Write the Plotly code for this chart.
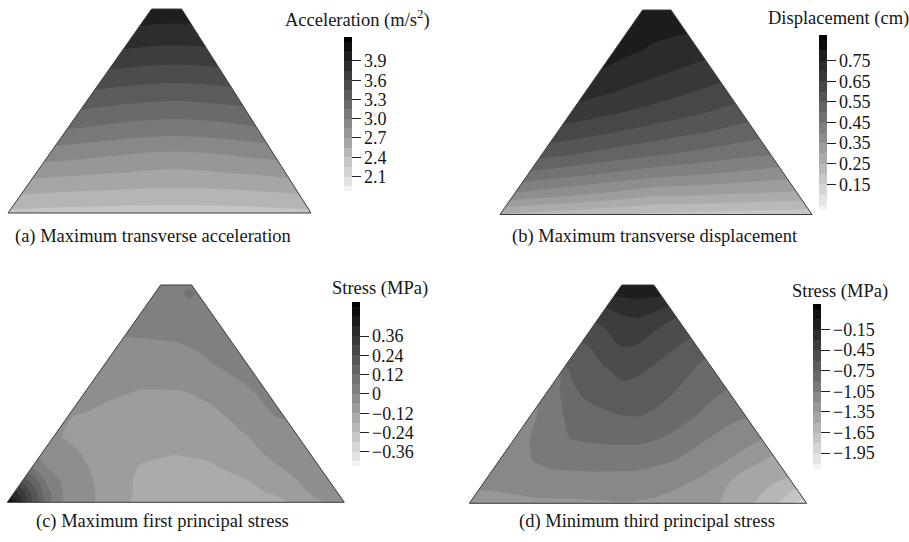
import plotly.graph_objects as go

W, H = 909, 542
SERIF = "Liberation Serif"
INK = "#161616"
GREYS = [[0.0, "#f2f2f2"], [1.0, "#000000"]]

# ---------------------------------------------------------------------------
# Field values on the dam section.  u runs across the base (0 = left toe,
# 1 = right toe), v runs up the height (0 = base, 1 = crest).
# ---------------------------------------------------------------------------

# (a) Maximum transverse acceleration, m/s^2
acc_u = [0.0, 0.1, 0.2, 0.3, 0.4, 0.5, 0.6, 0.7, 0.8, 0.9, 1.0]
acc_v = [0.0, 0.1, 0.2, 0.3, 0.4, 0.5, 0.6, 0.7, 0.8, 0.9, 1.0]
acc_z = [
    [2.36, 2.35, 2.34, 2.34, 2.33, 2.33, 2.33, 2.33, 2.34, 2.35, 2.36],
    [2.58, 2.56, 2.54, 2.53, 2.52, 2.51, 2.51, 2.52, 2.53, 2.55, 2.58],
    [2.78, 2.76, 2.74, 2.72, 2.70, 2.68, 2.68, 2.70, 2.72, 2.75, 2.78],
    [2.97, 2.95, 2.93, 2.90, 2.87, 2.85, 2.85, 2.87, 2.90, 2.93, 2.96],
    [3.17, 3.15, 3.13, 3.10, 3.07, 3.05, 3.05, 3.07, 3.10, 3.13, 3.16],
    [3.34, 3.32, 3.30, 3.27, 3.24, 3.22, 3.22, 3.24, 3.27, 3.30, 3.33],
    [3.50, 3.49, 3.47, 3.44, 3.41, 3.39, 3.39, 3.41, 3.44, 3.47, 3.50],
    [3.66, 3.65, 3.63, 3.60, 3.58, 3.56, 3.56, 3.58, 3.60, 3.63, 3.66],
    [3.80, 3.79, 3.78, 3.76, 3.74, 3.72, 3.72, 3.74, 3.76, 3.78, 3.80],
    [3.93, 3.92, 3.91, 3.90, 3.89, 3.87, 3.87, 3.89, 3.90, 3.92, 3.93],
    [4.03, 4.02, 4.01, 4.00, 3.99, 3.98, 3.98, 3.99, 4.00, 4.01, 4.03],
]
acc_ticks = [2.1, 2.4, 2.7, 3.0, 3.3, 3.6, 3.9]
acc_labels = ["2.1", "2.4", "2.7", "3.0", "3.3", "3.6", "3.9"]

# (b) Maximum transverse displacement, cm
dis_u = [0.0, 0.1, 0.2, 0.3, 0.4, 0.5, 0.6, 0.7, 0.8, 0.9, 1.0]
dis_v = [0.0, 0.1, 0.2, 0.3, 0.4, 0.5, 0.6, 0.7, 0.8, 0.9, 1.0]
dis_z = [
    [0.245, 0.234, 0.223, 0.212, 0.201, 0.190, 0.186, 0.182, 0.178, 0.174, 0.170],
    [0.401, 0.383, 0.366, 0.348, 0.331, 0.313, 0.308, 0.302, 0.297, 0.291, 0.286],
    [0.505, 0.488, 0.472, 0.455, 0.438, 0.421, 0.410, 0.399, 0.387, 0.376, 0.365],
    [0.595, 0.578, 0.561, 0.544, 0.527, 0.510, 0.495, 0.480, 0.465, 0.450, 0.434],
    [0.661, 0.644, 0.627, 0.610, 0.593, 0.576, 0.558, 0.541, 0.523, 0.506, 0.488],
    [0.723, 0.704, 0.686, 0.668, 0.649, 0.631, 0.612, 0.593, 0.574, 0.555, 0.536],
    [0.770, 0.753, 0.733, 0.714, 0.694, 0.674, 0.654, 0.635, 0.615, 0.595, 0.576],
    [0.805, 0.794, 0.773, 0.752, 0.731, 0.710, 0.691, 0.672, 0.653, 0.634, 0.615],
    [0.829, 0.811, 0.794, 0.776, 0.759, 0.741, 0.725, 0.709, 0.694, 0.678, 0.662],
    [0.834, 0.820, 0.805, 0.791, 0.776, 0.762, 0.755, 0.747, 0.740, 0.732, 0.725],
    [0.840, 0.830, 0.820, 0.800, 0.790, 0.780, 0.775, 0.770, 0.765, 0.760, 0.755],
]
dis_ticks = [0.15, 0.25, 0.35, 0.45, 0.55, 0.65, 0.75]
dis_labels = ["0.15", "0.25", "0.35", "0.45", "0.55", "0.65", "0.75"]

# (c) Maximum first principal stress, MPa
s1_u = [0.0, 0.04, 0.08, 0.12, 0.17, 0.23, 0.3, 0.4, 0.5, 0.515, 0.54, 0.565,
        0.6, 0.7, 0.8, 0.9, 1.0]
s1_v = [0.0, 0.05, 0.1, 0.16, 0.23, 0.3, 0.4, 0.5, 0.6, 0.7, 0.8, 0.9,
        0.925, 0.96, 0.995, 1.0]
s1_z = [
    [0.56, 0.383, 0.22, 0.086, -0.009, -0.043, -0.085, -0.14, -0.16, -0.16, -0.16, -0.16, -0.16, -0.15, -0.14, -0.075, -0.035],
    [0.42, 0.331, 0.199, 0.072, -0.011, -0.044, -0.08, -0.135, -0.16, -0.16, -0.16, -0.16, -0.16, -0.145, -0.105, -0.055, -0.03],
    [0.28, 0.234, 0.144, 0.041, -0.016, -0.048, -0.082, -0.135, -0.16, -0.158, -0.156, -0.153, -0.15, -0.127, -0.085, -0.045, -0.025],
    [0.143, 0.118, 0.055, -0.002, -0.024, -0.055, -0.085, -0.125, -0.145, -0.143, -0.139, -0.135, -0.13, -0.095, -0.063, -0.04, -0.02],
    [0.014, 0.002, -0.008, -0.022, -0.041, -0.066, -0.09, -0.105, -0.115, -0.113, -0.111, -0.108, -0.105, -0.075, -0.048, -0.03, -0.015],
    [-0.022, -0.024, -0.031, -0.048, -0.062, -0.078, -0.085, -0.095, -0.1, -0.098, -0.096, -0.093, -0.09, -0.064, -0.04, -0.025, -0.01],
    [-0.045, -0.045, -0.048, -0.052, -0.057, -0.063, -0.075, -0.085, -0.085, -0.083, -0.08, -0.077, -0.072, -0.045, 0.004, 0.02, 0.03],
    [-0.02, -0.022, -0.025, -0.028, -0.03, -0.035, -0.052, -0.066, -0.066, -0.065, -0.061, -0.056, -0.05, -0.012, 0.02, 0.03, 0.035],
    [-0.015, -0.015, -0.018, -0.02, -0.025, -0.03, -0.035, -0.035, -0.03, -0.027, -0.022, -0.018, -0.012, 0.012, 0.03, 0.035, 0.035],
    [-0.01, -0.01, -0.012, -0.015, -0.018, -0.02, -0.025, -0.022, -0.015, -0.011, -0.005, 0.001, 0.012, 0.03, 0.035, 0.035, 0.035],
    [0.0, 0.0, 0.002, 0.004, 0.006, 0.008, 0.01, 0.018, 0.025, 0.026, 0.028, 0.029, 0.03, 0.035, 0.035, 0.035, 0.035],
    [0.02, 0.02, 0.02, 0.02, 0.025, 0.025, 0.03, 0.03, 0.03, 0.03, 0.03, 0.03, 0.03, 0.03, 0.03, 0.03, 0.03],
    [0.03, 0.03, 0.03, 0.03, 0.03, 0.03, 0.03, 0.03, 0.03, 0.03, 0.03, 0.03, 0.03, 0.03, 0.03, 0.03, 0.03],
    [0.03, 0.03, 0.03, 0.03, 0.03, 0.03, 0.03, 0.03, 0.03, 0.03, 0.12, 0.03, 0.03, 0.03, 0.03, 0.03, 0.03],
    [0.03, 0.03, 0.03, 0.03, 0.03, 0.03, 0.03, 0.03, 0.03, 0.03, 0.03, 0.03, 0.03, 0.03, 0.03, 0.03, 0.03],
    [0.03, 0.03, 0.03, 0.03, 0.03, 0.03, 0.03, 0.03, 0.03, 0.03, 0.03, 0.03, 0.03, 0.03, 0.03, 0.03, 0.03],
]
s1_ticks = [-0.36, -0.24, -0.12, 0.0, 0.12, 0.24, 0.36]
s1_labels = ["\u22120.36", "\u22120.24", "\u22120.12", "0", "0.12", "0.24", "0.36"]

# (d) Minimum third principal stress, MPa
s3_u = [0.0, 0.1, 0.2, 0.25, 0.3, 0.35, 0.4, 0.45, 0.5, 0.55, 0.6, 0.65, 0.7, 0.8, 0.9, 1.0]
s3_v = [0.0, 0.05, 0.1, 0.15, 0.2, 0.3, 0.4, 0.5, 0.6, 0.7, 0.8, 0.85, 0.9, 0.95, 1.0]
s3_z = [
    [-1.25, -1.23, -1.22, -1.22, -1.22, -1.215, -1.21, -1.205, -1.21, -1.225, -1.24, -1.27, -1.3, -1.42, -1.6, -1.9],
    [-1.22, -1.2, -1.18, -1.175, -1.175, -1.17, -1.17, -1.165, -1.17, -1.18, -1.205, -1.25, -1.3, -1.39, -1.55, -1.75],
    [-1.15, -1.15, -1.13, -1.12, -1.115, -1.11, -1.105, -1.105, -1.11, -1.13, -1.16, -1.19, -1.24, -1.39, -1.48, -1.62],
    [-1.16, -1.12, -1.07, -1.055, -1.049, -1.045, -1.045, -1.047, -1.05, -1.08, -1.11, -1.14, -1.18, -1.33, -1.45, -1.5],
    [-1.14, -1.11, -1.04, -1.01, -0.995, -0.99, -0.985, -0.983, -0.986, -1.0, -1.04, -1.086, -1.131, -1.233, -1.38, -1.4],
    [-1.12, -1.12, -1.032, -0.959, -0.895, -0.875, -0.865, -0.86, -0.863, -0.885, -0.923, -0.981, -1.038, -1.138, -1.22, -1.22],
    [-1.08, -1.08, -1.05, -0.943, -0.872, -0.825, -0.778, -0.755, -0.748, -0.77, -0.828, -0.877, -0.928, -1.03, -1.06, -1.06],
    [-1.06, -1.06, -1.06, -0.968, -0.79, -0.72, -0.68, -0.645, -0.668, -0.71, -0.748, -0.804, -0.862, -0.95, -0.95, -0.95],
    [-1.0, -1.0, -1.0, -1.0, -0.74, -0.682, -0.621, -0.575, -0.584, -0.635, -0.687, -0.74, -0.80, -0.85, -0.85, -0.85],
    [-0.72, -0.72, -0.72, -0.72, -0.72, -0.625, -0.539, -0.465, -0.486, -0.541, -0.597, -0.665, -0.72, -0.73, -0.73, -0.73],
    [-0.53, -0.53, -0.53, -0.53, -0.53, -0.52, -0.452, -0.375, -0.364, -0.44, -0.49, -0.54, -0.55, -0.55, -0.55, -0.55],
    [-0.46, -0.46, -0.46, -0.46, -0.46, -0.45, -0.403, -0.317, -0.297, -0.367, -0.44, -0.47, -0.48, -0.48, -0.48, -0.48],
    [-0.33, -0.33, -0.33, -0.33, -0.33, -0.32, -0.30, -0.25, -0.209, -0.245, -0.32, -0.34, -0.35, -0.35, -0.35, -0.35],
    [-0.16, -0.16, -0.16, -0.16, -0.16, -0.16, -0.155, -0.14, -0.128, -0.14, -0.155, -0.16, -0.16, -0.16, -0.16, -0.16],
    [-0.15, -0.15, -0.15, -0.15, -0.15, -0.15, -0.12, -0.07, -0.06, -0.07, -0.12, -0.15, -0.15, -0.15, -0.15, -0.15],
]
s3_ticks = [-1.95, -1.65, -1.35, -1.05, -0.75, -0.45, -0.15]
s3_labels = ["\u22121.95", "\u22121.65", "\u22121.35", "\u22121.05", "\u22120.75", "\u22120.45", "\u22120.15"]

# ---------------------------------------------------------------------------
# Panel layout: section box in pixels (left toe, right toe, crest, base),
# crest edges as fractions of the base, colour bar placement in pixels.
# ---------------------------------------------------------------------------
panels = [
    dict(u=acc_u, v=acc_v, z=acc_z, levels=(1.95, 4.2, 0.15),
         ticks=acc_ticks, labels=acc_labels, smooth=1.0,
         box=(8, 311, 9, 213), crest=(0.474, 0.573),
         cbar=(344, 36.9, 154),
         title="Acceleration (m/s<sup>2</sup>)", title_at=(283, 19),
         caption="(a) Maximum transverse acceleration", caption_at=(153, 236)),
    dict(u=dis_u, v=dis_v, z=dis_z, levels=(0.05, 0.85, 0.05),
         ticks=dis_ticks, labels=dis_labels, smooth=1.0,
         box=(500, 812, 10, 214.5), crest=(0.457, 0.548),
         cbar=(819, 35, 175),
         title="Displacement (cm)", title_at=(766, 19),
         caption="(b) Maximum transverse displacement", caption_at=(655, 236)),
    dict(u=s1_u, v=s1_v, z=s1_z, levels=(-0.42, 0.54, 0.06),
         ticks=s1_ticks, labels=s1_labels, smooth=0.7,
         box=(7.3, 344.3, 285, 502.3), crest=(0.455, 0.547),
         cbar=(352, 302.3, 164),
         title="Stress (MPa)", title_at=(330, 288),
         caption="(c) Maximum first principal stress", caption_at=(162, 521)),
    dict(u=s3_u, v=s3_v, z=s3_z, levels=(-2.1, 0.15, 0.15),
         ticks=s3_ticks, labels=s3_labels, smooth=0.7,
         box=(469.3, 806.7, 285, 503.3), crest=(0.452, 0.547),
         cbar=(813, 303.6, 164.5),
         title="Stress (MPa)", title_at=(790, 291),
         caption="(d) Minimum third principal stress", caption_at=(647, 521)),
]

fig = go.Figure()
shapes, annotations = [], []
PAD = 3

for i, p in enumerate(panels, start=1):
    sfx = "" if i == 1 else str(i)
    L, R, T, B = p["box"]
    wpx, hpx = R - L, B - T
    fig.update_layout(**{
        f"xaxis{sfx}": dict(domain=[(L - PAD) / W, (R + PAD) / W],
                            range=[-PAD / wpx, 1 + PAD / wpx],
                            visible=False, fixedrange=True, anchor=f"y{sfx}"),
        f"yaxis{sfx}": dict(domain=[1 - (B + PAD) / H, 1 - (T - PAD) / H],
                            range=[-PAD / hpx, 1 + PAD / hpx],
                            visible=False, fixedrange=True, anchor=f"x{sfx}"),
    })

    start, end, size = p["levels"]
    cbx, cbtop, cblen = p["cbar"]
    fig.add_trace(go.Contour(
        x=p["u"], y=p["v"], z=p["z"],
        xaxis=f"x{sfx}", yaxis=f"y{sfx}",
        colorscale=GREYS, autocontour=False,
        contours=dict(start=start, end=end, size=size,
                      coloring="fill", showlines=False),
        line=dict(width=0, smoothing=p["smooth"]),
        hoverinfo="skip",
        colorbar=dict(
            x=cbx / W, xanchor="left", xpad=0,
            y=1 - cbtop / H, yanchor="top", ypad=0,
            len=cblen, lenmode="pixels",
            thickness=8, thicknessmode="pixels",
            outlinewidth=0,
            ticks="outside", ticklen=9, tickwidth=1, tickcolor="#222222",
            tickmode="array", tickvals=p["ticks"], ticktext=p["labels"],
            tickfont=dict(family=SERIF, size=18, color=INK),
        ),
    ))

    cl, cr = p["crest"]
    xr, yr = f"x{sfx}", f"y{sfx}"
    # blank out the rectangle outside the sloping faces
    shapes.append(dict(type="path", xref=xr, yref=yr, layer="above",
                       path=f"M0,0 L{cl},1 L{cl},1.2 L-0.2,1.2 L-0.2,0 Z",
                       fillcolor="white", line=dict(width=0)))
    shapes.append(dict(type="path", xref=xr, yref=yr, layer="above",
                       path=f"M1,0 L{cr},1 L{cr},1.2 L1.2,1.2 L1.2,0 Z",
                       fillcolor="white", line=dict(width=0)))
    # section outline
    shapes.append(dict(type="path", xref=xr, yref=yr, layer="above",
                       path=f"M0,0 L{cl},1 L{cr},1 L1,0 Z",
                       fillcolor="rgba(0,0,0,0)",
                       line=dict(color="#3a3a3a", width=1)))

    tx, ty = p["title_at"]
    annotations.append(dict(text=p["title"], xref="paper", yref="paper",
                            x=tx / W, y=1 - ty / H, xanchor="left", yanchor="middle",
                            showarrow=False, font=dict(family=SERIF, size=18.5, color=INK)))
    cx, cy = p["caption_at"]
    annotations.append(dict(text=p["caption"], xref="paper", yref="paper",
                            x=cx / W, y=1 - cy / H, xanchor="center", yanchor="middle",
                            showarrow=False, font=dict(family=SERIF, size=18.5, color=INK)))

fig.update_layout(
    width=W, height=H,
    margin=dict(l=0, r=0, t=0, b=0, autoexpand=False),
    paper_bgcolor="white", plot_bgcolor="white",
    showlegend=False,
    font=dict(family=SERIF, color=INK),
    shapes=shapes, annotations=annotations,
)

fig.write_html("out.html")
